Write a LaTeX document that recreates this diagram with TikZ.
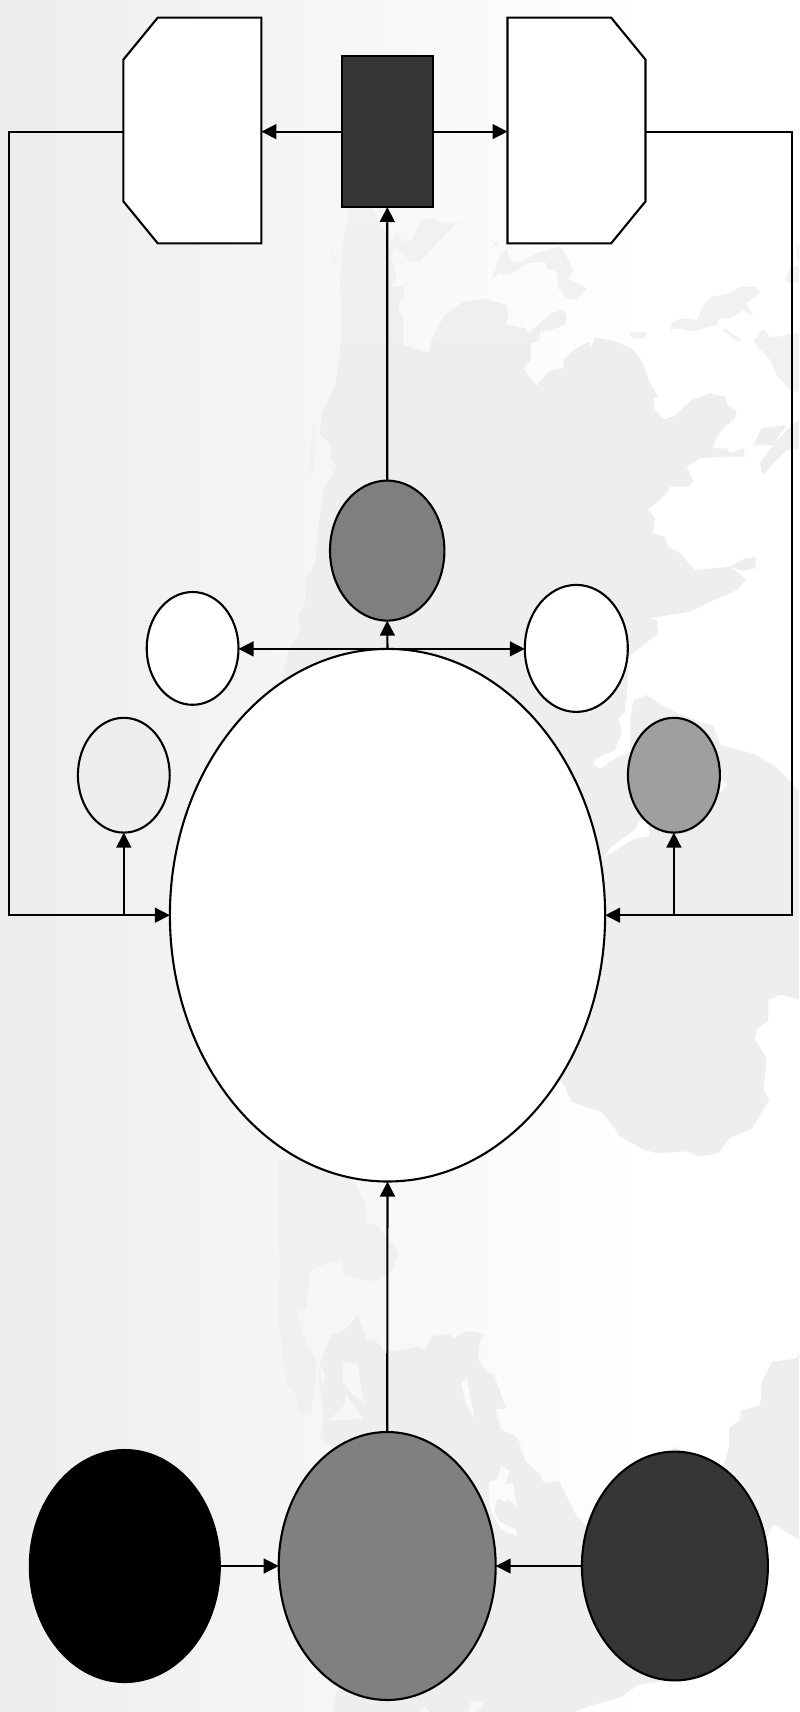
\documentclass[tikz,border=0pt]{standalone}
\usetikzlibrary{arrows.meta,shapes.geometric}
\definecolor{landc}{HTML}{EEEEEE}
\definecolor{landl}{HTML}{F1F1F1}
\definecolor{landk}{HTML}{F0F0F0}
\definecolor{holec}{HTML}{F7F7F7}
\definecolor{holed}{HTML}{FBFBFB}
\definecolor{greym}{HTML}{7F7F7F}
\definecolor{greyn}{HTML}{808080}
\definecolor{greyd}{HTML}{363636}
\definecolor{greyl}{HTML}{9F9F9F}
\definecolor{bgleft}{HTML}{EDEDED}
\tikzset{
  blob/.style={draw=black,line width=1.05pt,ellipse,inner sep=0pt,outer sep=0pt},
  boxn/.style={draw=black,line width=1.05pt,rectangle,inner sep=0pt,outer sep=0pt},
  chamf/.style={rectangle,inner sep=0pt,outer sep=0pt,minimum width=69pt,minimum height=112.9pt},
  chamfline/.style={draw=black,fill=white,line width=1.05pt,line join=miter},
  wire/.style={draw=black,line width=1.05pt},
  arr/.style={wire,-{Triangle[length=7.5pt,width=7.4pt]}},
  zfour/.style={x=0.16667pt,y=-0.16667pt,shift={(140pt,-100pt)}},
  zfive/.style={x=0.16667pt,y=-0.17218pt,shift={(250pt,-320pt)}},
  zsix/.style={x=0.17188pt,y=-0.17283pt,shift={(130pt,-585pt)}}
}
\begin{document}
\begin{tikzpicture}[x=0.5pt,y=-0.5pt]
\useasboundingbox (0,0) rectangle (799,1712);
\begin{scope}
\clip (0,0) rectangle (799,1712);
\fill[white] (0,0) rectangle (799,1712);
\shade[left color=bgleft,right color=white] (0,0) rectangle (650,1712);
% land, upper part
\begin{scope}[zfour]
\begin{scope}
\clip plot coordinates {(215,-10)(190,130)(180,230)(185,400)(175,500)(165,560)(125,640)(120,700)(150,730)(155,775)(170,800)(130,870)(118,960)(105,1090)(80,1130)(75,1210)(55,1240)(60,1290)(30,1340)(10,1420)(0,1500)(0,1560)(1010,1560)(1040,1500)(1045,1370)(1135,1300)(1130,1260)(1105,1255)(1230,1235)(1280,1210)(1370,1170)(1400,1140)(1350,1100)(1300,1105)(1245,1110)(1200,1060)(1165,1040)(1155,1010)(1118,1000)(1125,955)(1105,930)(1160,880)(1170,860)(1225,860)(1240,845)(1220,800)(1260,775)(1330,770)(1395,770)(1390,745)(1350,760)(1340,745)(1298,745)(1310,710)(1335,680)(1365,655)(1370,630)(1345,620)(1335,590)(1290,580)(1235,600)(1180,650)(1150,658)(1125,630)(1120,595)(1135,590)(1105,540)(1090,490)(1060,450)(1010,425)(945,412)(935,440)(925,425)(880,450)(850,480)(850,505)(808,512)(770,558)(730,505)(752,480)(752,430)(778,420)(780,395)(810,390)(855,375)(860,350)(850,328)(815,340)(745,400)(735,385)(678,372)(685,345)(680,315)(610,295)(550,305)(500,340)(470,385)(455,420)(445,458)(370,435)(370,350)(360,345)(355,310)(375,290)(370,260)(330,260)(350,230)(340,190)(330,170)(320,100)(255,-10)} -- cycle;
\shade[top color=landl,bottom color=landc] (-10,-10) rectangle (1560,500);
\fill[landc] (-10,499) rectangle (1560,1570);
\end{scope}
\fill[landl] plot coordinates {(330,130)(350,100)(370,125)(395,120)(425,60)(460,55)(490,70)(550,70)(525,75)(470,130)(420,185)(395,185)(345,145)(330,170)} -- cycle;
\fill[landl] plot coordinates {(155,150)(170,180)(158,190)} -- cycle;
\fill[landl] plot coordinates {(85,830)(92,740)(102,650)(110,740)(100,810)} -- cycle;
\fill[landl] plot coordinates {(637,235)(660,165)(680,150)(695,185)(725,185)(770,160)(840,140)(860,170)(880,210)(865,235)(920,265)(890,300)(860,295)(835,265)(830,215)(800,205)(795,185)(740,190)(690,225)(660,220)} -- cycle;
\fill[landl] plot coordinates {(635,120)(655,135)(650,140)} -- cycle;
\fill[landl] plot coordinates {(1172,390)(1175,365)(1210,355)(1250,360)(1275,310)(1295,290)(1350,280)(1380,260)(1430,260)(1440,280)(1400,310)(1420,350)(1390,330)(1350,355)(1320,355)(1310,375)(1270,385)(1240,395)(1200,385)} -- cycle;
\fill[landl] plot coordinates {(1045,397)(1105,397)(1090,415)(1060,415)} -- cycle;
\fill[landl] plot coordinates {(1335,385)(1385,422)(1375,425)(1330,392)} -- cycle;
\fill[landl] plot coordinates {(1420,425)(1450,385)(1470,410)(1500,410)(1535,400)(1570,400)(1570,580)(1530,570)(1490,525)(1470,480)} -- cycle;
\fill[landl] plot coordinates {(1515,240)(1530,205)(1570,190)(1570,245)(1530,250)} -- cycle;
\fill[landl] plot coordinates {(1550,140)(1570,130)(1570,190)(1552,185)} -- cycle;
\fill[landc] plot coordinates {(1420,735)(1445,685)(1520,675)(1495,710)(1480,735)} -- cycle;
\fill[landc] plot coordinates {(1445,815)(1440,790)(1480,735)(1530,680)(1570,650)(1570,745)(1520,750)(1480,790)(1450,825)} -- cycle;
\fill[landc] plot coordinates {(1350,1100)(1395,1075)(1428,1070)(1425,1105)(1390,1112)} -- cycle;
\fill[white] (1160,590) ellipse [x radius=19,y radius=21];
\end{scope}
% land, middle right
\begin{scope}[zfive]
\fill[landc] plot coordinates {(0,0)(383,50)(375,210)(355,230)(365,265)(345,320)(285,345)(280,362)(300,375)(345,345)(390,325)(392,225)(400,175)(440,160)(480,185)(535,215)(640,250)(660,305)(760,330)(830,370)(910,450)(910,1045)(840,1030)(805,1045)(805,1105)(770,1130)(765,1160)(800,1215)(790,1305)(808,1335)(755,1420)(690,1445)(655,1490)(600,1500)(560,1485)(470,1490)(430,1480)(360,1440)(305,1370)(255,1355)(215,1340)(190,1290)(100,1200)(100,200)} -- cycle;
\fill[white] plot coordinates {(310,635)(330,605)(405,550)(420,525)(445,520)(447,570)(400,578)(330,620)} -- cycle;
\fill[white] plot coordinates {(655,400)(682,420)(660,445)} -- cycle;
\fill[holed] plot coordinates {(300,1415)(335,1440)(325,1442)} -- cycle;
\fill[holed] plot coordinates {(315,1470)(335,1482)(315,1484)} -- cycle;
\end{scope}
% land, lower part
\begin{scope}[zsix]
\fill[landk] plot coordinates {(50,-30)(55,240)(62,245)(95,350)(105,410)(135,400)(145,290)(210,265)(240,260)(245,305)(300,320)(335,320)(385,290)(405,240)(345,165)(310,150)(305,90)(270,30)(262,-30)} -- cycle;
\fill[landk] plot coordinates {(62,245)(50,400)(70,560)(75,620)(105,650)(110,700)(130,705)(150,700)(165,560)(130,490)(105,410)(95,350)} -- cycle;
\fill[landc] plot coordinates {(170,600)(185,715)(175,780)(370,900)(660,1100)(950,1130)(950,1030)(920,1000)(870,900)(825,905)(815,880)(770,840)(750,775)(700,750)(685,690)(715,690)(680,590)(660,585)(635,550)(640,490)(655,475)(600,465)(560,490)(550,475)(500,480)(480,520)(460,510)(395,525)(360,520)(330,490)(310,490)(285,420)(250,460)(205,480)(175,560)} -- cycle;
\fill[holec] plot coordinates {(240,555)(285,560)(295,640)(305,675)(270,650)(240,610)} -- cycle;
\fill[holec] plot coordinates {(250,650)(300,720)(200,725)(245,680)} -- cycle;
\fill[holec] plot coordinates {(175,570)(190,590)(180,630)} -- cycle;
\fill[holed] plot coordinates {(700,855)(725,870)(715,910)(735,905)(750,980)(720,950)(715,960)(690,950)(680,985)(700,1020)(745,1040)(748,1060)(700,1040)(665,970)(665,905)(690,895)(700,860)} -- cycle;
\fill[holed] plot coordinates {(585,620)(600,600)(625,720)(600,680)} -- cycle;
\fill[landc] plot coordinates {(210,1580)(225,1500)(370,1400)(700,1100)(1000,1100)(1200,1300)(1165,1480)(1100,1490)(1050,1525)(960,1550)(880,1580)} -- cycle;
\fill[holec] plot coordinates {(450,1580)(480,1550)(500,1580)} -- cycle;
\fill[holec] plot coordinates {(600,1580)(615,1535)(650,1540)(625,1580)} -- cycle;
\fill[landc] plot coordinates {(1580,520)(1560,545)(1490,555)(1460,610)(1455,680)(1400,695)(1395,725)(1365,745)(1365,800)(1350,850)(1300,1000)(1400,1100)(1475,1060)(1495,1025)(1520,1040)(1580,1075)} -- cycle;
\fill[landc] plot coordinates {(1200,800)(1235,815)(1200,850)} -- cycle;
\fill[white] plot coordinates {(1350,730)(1368,730)(1365,745)(1352,745)} -- cycle;
\end{scope}
\end{scope}
% nodes
\node[chamf] (octL) at (192.4,130.5) {};
\draw[chamfline] ([xshift=17.2pt]octL.north west) -- (octL.north east) -- (octL.south east)
  -- ([xshift=17.2pt]octL.south west) -- ([yshift=21pt]octL.south west) -- ([yshift=-21pt]octL.north west) -- cycle;
\node[chamf] (octR) at (576.5,130.5) {};
\draw[chamfline] (octR.north west) -- ([xshift=-17.2pt]octR.north east) -- ([yshift=-21pt]octR.north east)
  -- ([yshift=21pt]octR.south east) -- ([xshift=-17.2pt]octR.south east) -- (octR.south west) -- cycle;
\node[boxn,fill=greyd,minimum width=45.6pt,minimum height=75.4pt] (core) at (387.3,131.6) {};
\node[blob,fill=greym,minimum width=57.2pt,minimum height=70pt] (hub) at (387.2,550.6) {};
\node[blob,fill=white,minimum width=45.9pt,minimum height=56.4pt] (whL) at (192.6,648.4) {};
\node[blob,fill=white,minimum width=51.5pt,minimum height=63.5pt] (whR) at (576.3,648.4) {};
\node[blob,fill=landc,minimum width=45.9pt,minimum height=57.4pt] (smL) at (123.8,775.2) {};
\node[blob,fill=greyl,minimum width=46pt,minimum height=57.4pt] (smR) at (673.9,775.2) {};
\node[blob,fill=white,minimum width=217.6pt,minimum height=266.3pt] (big) at (387.5,915.2) {};
\node[blob,fill=black,minimum width=95pt,minimum height=116pt] (blk) at (124.8,1566) {};
\node[blob,fill=greyn,minimum width=108.5pt,minimum height=134pt] (mid) at (387.2,1566) {};
\node[blob,fill=greyd,minimum width=93pt,minimum height=114.4pt] (drk) at (674.9,1566) {};
% free corners
\coordinate (cLt) at (9.2,131.6);
\coordinate (cLb) at (9.2,915.2);
\coordinate (cRt) at (792.4,131.6);
\coordinate (cRb) at (792.4,915.2);
% connectors
\draw[arr] (core.west) -- (octL.east |- core.west);
\draw[arr] (core.east) -- (octR.west |- core.east);
\draw[arr] (hub.north) -- (core.south);
\draw[arr] (big.north) -- (hub.south);
\draw[arr] (big.north) -- (whL.east |- big.north);
\draw[arr] (big.north) -- (whR.west |- big.north);
\draw[arr] (octL.west |- cLt) -- (cLt) -- (cLb) -- (big.west);
\draw[arr] (octR.east |- cRt) -- (cRt) -- (cRb) -- (big.east);
\draw[arr] (smL.south |- big.west) -- (smL.south);
\draw[arr] (smR.south |- big.east) -- (smR.south);
\draw[arr] (mid.north) -- (big.south);
\draw[arr] (blk.east) -- (mid.west);
\draw[arr] (drk.west) -- (mid.east);
\end{tikzpicture}
\end{document}
